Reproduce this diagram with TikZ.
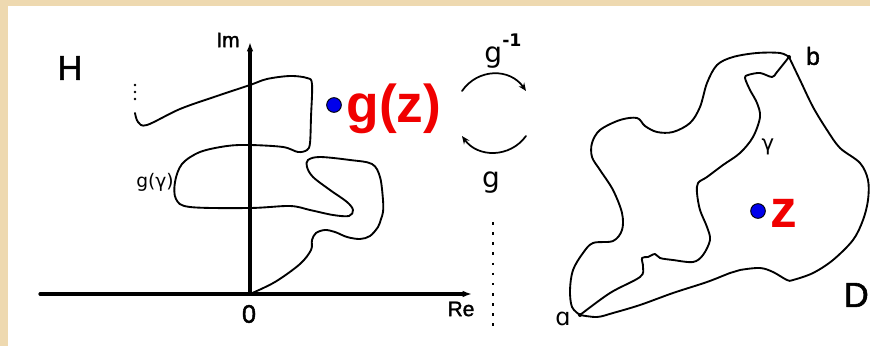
\documentclass[tikz,border=0pt]{standalone}
\usepackage{fontspec}
\setmainfont{DejaVu Sans}
\newfontfamily\heavysans{Liberation Sans}
\newfontfamily\labelsans{Liberation Sans}[FakeBold=1.6]
\usetikzlibrary{arrows.meta}

\definecolor{parchment}{RGB}{238,217,176}
\definecolor{pointblue}{RGB}{0,0,235}
\definecolor{labelred}{RGB}{240,0,0}

\tikzset{
  curve/.style={line width=1.4pt},
  axis/.style={line width=2.4pt,-{Latex[length=7pt,width=5pt]}},
  swap/.style={line width=1.3pt,-{Stealth[length=6pt,width=5pt]}},
  point/.style={circle,draw=black,line width=0.7pt,fill=pointblue,minimum size=11pt,inner sep=0pt},
  endpt/.style={circle,fill=black,minimum size=3pt,inner sep=0pt},
  bigred/.style={text=labelred,font=\heavysans\bfseries\fontsize{40}{40}\selectfont},
  tag/.style={font=\labelsans\fontsize{#1}{#1}\selectfont}
}

\begin{document}
\begin{tikzpicture}[x=0.75pt,y=-0.75pt,line cap=round,line join=round]
  % paper and panel
  \fill[parchment] (0,0) rectangle (870,346);
  \fill[white] (8,6) rectangle (870,346);
  \useasboundingbox (0,0) rectangle (870,346);

  % upper half plane H
  \coordinate (O) at (250,294);
  \draw[axis] (40,294) -- (472,294);
  \draw[axis] (O) -- (250,42);
  \node[tag=26] (H) at (70,68) {H};
  \node[tag=15.7] (Im) at (228,40) {Im};
  \node[tag=15.7] (Re) at (461,309) {Re};
  \node[tag=19] (zero) at (249,314) {0};

  \draw[curve] plot[smooth,tension=0.55] coordinates {
    (O) (275,282) (300,264) (311,250) (312,240) (316,233) (325,230)
    (335,232) (347,237) (360,239) (370,236) (378,227) (381,219)
    (383,212) (383,200) (380,177) (372,164) (350,160) (320,157)
    (308,160) (307,167) (313,177) (330,190) (347,202) (353,210)
    (349,216) (333,215) (310,210) (290,206) (250,208) (190,207)
    (176,199) (175,182) (182,164) (200,152) (227,146) (250,145)
    (283,147) (298,152) (307,150) (310,143) (311,117) (312,84)
    (307,78) (290,76) (267,79) (250,85) (217,96) (180,109)
    (147,125) (138,122) (135,113)};
  \foreach \y in {85,92,99}
    \fill (135,\y) circle (1.3);
  \node[font=\fontsize{14}{14}\selectfont] (ggamma) at (155,182) {g(γ)};

  \node[point] (gzdot) at (334,105) {};
  \node[bigred] (gz) at (394,109) {g(z)};

  % the two maps
  \draw[swap] (462,91) .. controls (478,68) and (510,68) .. (526,91);
  \draw[swap] (526,136) .. controls (510,158) and (478,158) .. (462,136);
  \node[font=\fontsize{21}{21}\selectfont] (ginv) at (503,51)
    {g\raisebox{1.05ex}{\fontsize{13}{13}\selectfont\bfseries -1}};
  \node[font=\fontsize{21}{21}\selectfont] (g) at (491,183) {g};
  \draw[line width=2pt,line cap=butt,dash pattern=on 2pt off 5.6pt] (493,222) -- (493,332);

  % domain D
  \coordinate (a) at (580,315);
  \coordinate (b) at (789,57);
  \draw[curve] plot[smooth,tension=0.55] coordinates {
    (a) (572,307) (570,290) (573,270) (583,253) (593,243) (613,241)
    (622,230) (622,213) (613,190) (600,170) (592,157) (592,143)
    (600,130) (620,120) (637,118) (645,126) (657,132) (673,132)
    (690,123) (700,107) (707,83) (717,65) (733,57) (757,53)
    (780,53) (b)};
  \draw[curve] plot[smooth,tension=0.55] coordinates {
    (b) (800,80) (813,107) (827,130) (840,148) (860,163) (868,180)
    (868,200) (863,220) (853,240) (833,260) (813,273) (793,280)
    (787,280) (773,272) (760,268) (740,270) (730,273) (707,282)
    (673,293) (640,305) (613,313) (597,317) (a)};
  \draw[curve] plot[smooth,tension=0.55] coordinates {
    (a) (610,293) (640,277) (643,267) (642,258) (648,257) (655,254)
    (660,258) (673,260) (693,262) (703,255) (710,240) (707,227)
    (700,210) (697,193) (698,183) (707,177) (723,165) (740,153)
    (753,137) (760,117) (757,103) (750,90) (745,78) (748,75)
    (760,73) (772,77) (777,72) (b)};
  \node[endpt] at (a) {};
  \node[endpt] at (b) {};
  \node[font=\fontsize{18}{18}\selectfont] (alabel) at (563,319) {ɑ};
  \node[tag=18.5] (blabel) at (813,56) {b};
  \node[font=\fontsize{16}{16}\selectfont] (gamma) at (768,147) {γ};
  \node[tag=26,anchor=east,inner sep=0pt] (D) at (869,295) {D};
  \node[point] (zdot) at (758,211) {};
  \node[bigred] (z) at (784,213) {z};
\end{tikzpicture}
\end{document}
